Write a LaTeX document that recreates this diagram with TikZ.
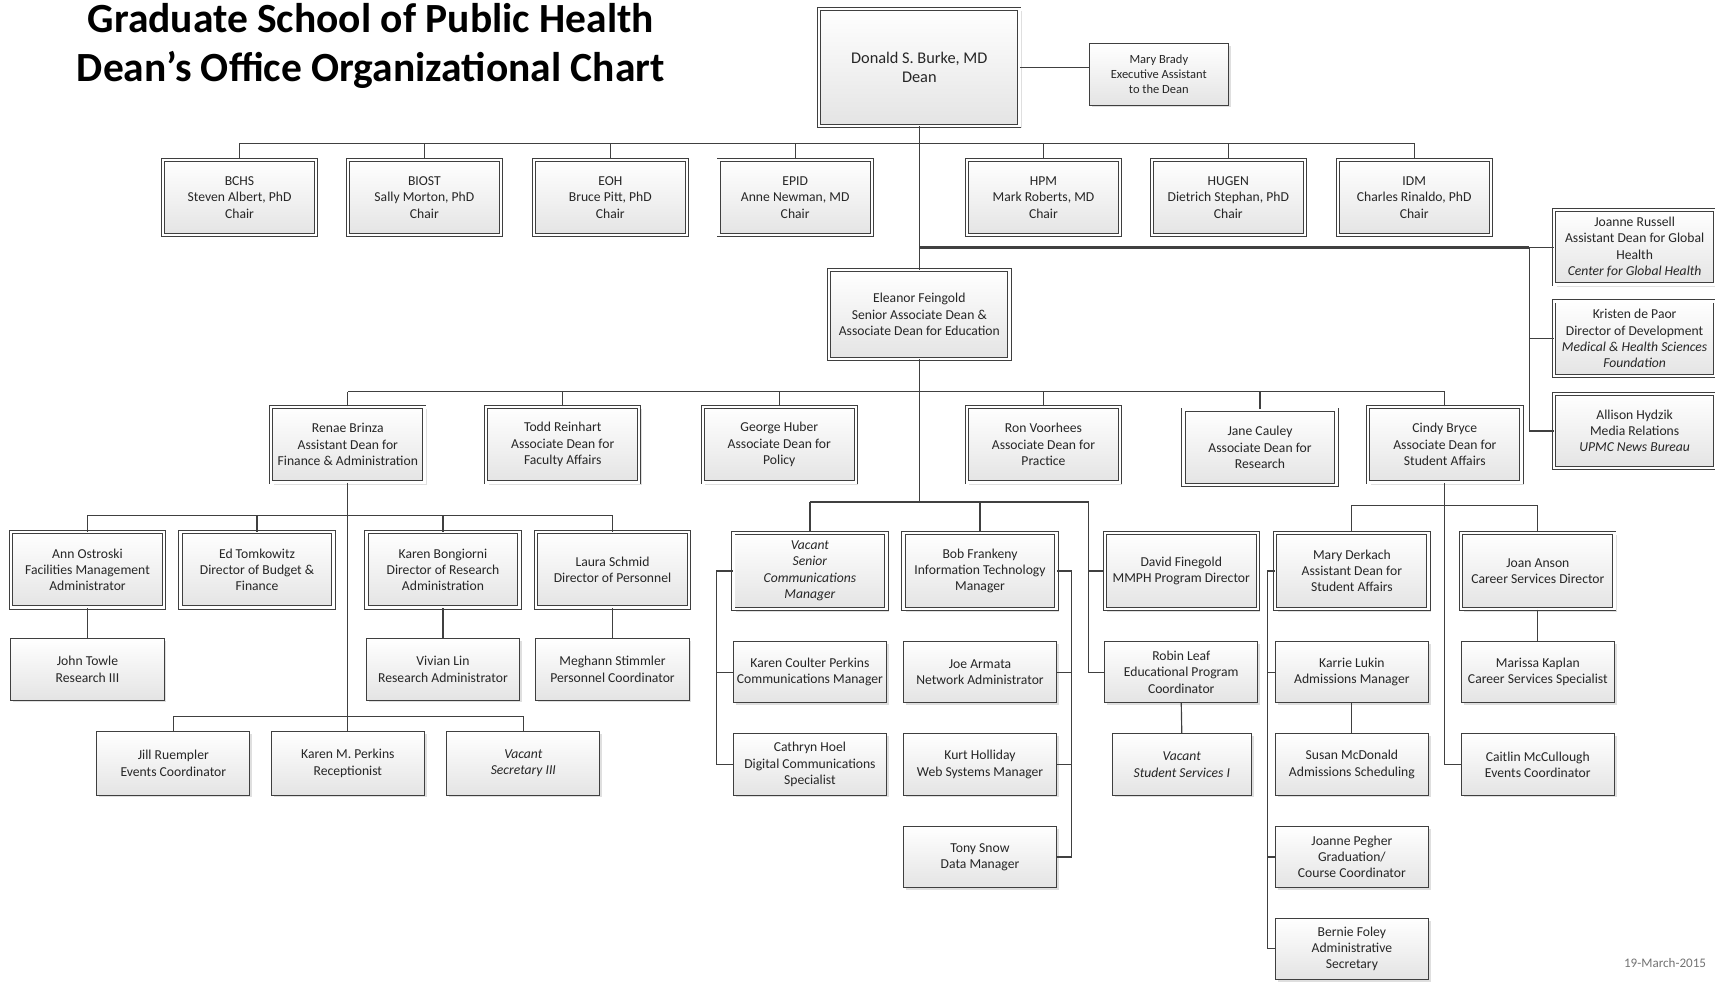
\documentclass[tikz,border=0pt]{standalone}
\usepackage{fontspec}
\setmainfont{Carlito}
\usetikzlibrary{shadows}
\definecolor{boxline}{HTML}{3F3F3F}
\definecolor{boxfill}{HTML}{E4E4E4}
\definecolor{linkgray}{HTML}{404040}

\begin{document}
\begin{tikzpicture}[x=0.02cm,y=-0.02cm,
    box/.style={draw=boxline,line width=0.5pt,top color=white,bottom color=boxfill,
      drop shadow={shadow xshift=1.2pt,shadow yshift=-1.2pt,opacity=0.25},
      align=center,inner sep=1pt,text=black!85,font=\fontsize{7.1}{8.5}\selectfont,
      minimum width=2.8cm,minimum height=1.12cm},
    head/.style={box,double=white,double distance=1.2pt,minimum height=1.38cm},
    link/.style={draw=linkgray,line width=0.6pt}]
  \useasboundingbox (0,0) rectangle (1568,897);

  % title and dean
  \node[align=center,font=\bfseries\fontsize{21.6}{25.5}\selectfont] (title) at (339,42)
    {Graduate School of Public Health\\Dean’s Office Organizational Chart};
  \node[head,minimum width=3.66cm,minimum height=2.14cm,font=\fontsize{8.5}{10.2}\selectfont] (dean) at (840.5,61.5) {Donald S. Burke, MD\\Dean};
  \node[box,minimum width=2.54cm,font=\fontsize{6.5}{7.8}\selectfont] (brady) at (1059.5,68) {Mary Brady\\Executive Assistant\\to the Dean};

  % chairs
  \node[head] (bchs) at (219,180.5) {BCHS\\Steven Albert, PhD\\Chair};
  \node[head] (biost) at (388,180.5) {BIOST\\Sally Morton, PhD\\Chair};
  \node[head] (eoh) at (558,180.5) {EOH\\Bruce Pitt, PhD\\Chair};
  \node[head] (epid) at (727,180.5) {EPID\\Anne Newman, MD\\Chair};
  \node[head] (hpm) at (954,180.5) {HPM\\Mark Roberts, MD\\Chair};
  \node[head] (hugen) at (1123,180.5) {HUGEN\\Dietrich Stephan, PhD\\Chair};
  \node[head] (idm) at (1293,180.5) {IDM\\Charles Rinaldo, PhD\\Chair};

  % right column
  \node[head,minimum width=2.94cm,minimum height=1.36cm] (russell) at (1494.5,226) {Joanne Russell\\Assistant Dean for Global\\Health\\\textit{Center for Global Health}};
  \node[head,minimum width=2.94cm,minimum height=1.36cm] (depaor) at (1494.5,309.5) {Kristen de Paor\\Director of Development\\\textit{Medical \& Health Sciences}\\\textit{Foundation}};
  \node[head,minimum width=2.94cm,minimum height=1.36cm] (hydzik) at (1494.5,394) {Allison Hydzik\\Media Relations\\\textit{UPMC News Bureau}};

  \node[head,minimum width=3.3cm,minimum height=1.62cm] (feingold) at (840.5,287.5) {Eleanor Feingold\\Senior Associate Dean \&\\Associate Dean for Education};

  % associate deans
  \node[head] (brinza) at (318,406.5) {Renae Brinza\\Assistant Dean for\\Finance \& Administration};
  \node[head] (reinhart) at (514.5,406.5) {Todd Reinhart\\Associate Dean for\\Faculty Affairs};
  \node[head] (huber) at (712.5,406.5) {George Huber\\Associate Dean for\\Policy};
  \node[head] (voorhees) at (954,406.5) {Ron Voorhees\\Associate Dean for\\Practice};
  \node[head] (cauley) at (1152,409) {Jane Cauley\\Associate Dean for\\Research};
  \node[head] (bryce) at (1321,406.5) {Cindy Bryce\\Associate Dean for\\Student Affairs};

  % directors
  \node[head] (ostroski) at (80,521) {Ann Ostroski\\Facilities Management\\Administrator};
  \node[head] (tomkowitz) at (235,521) {Ed Tomkowitz\\Director of Budget \&\\Finance};
  \node[head] (bongiorni) at (405,521) {Karen Bongiorni\\Director of Research\\Administration};
  \node[head] (schmid) at (560,521) {Laura Schmid\\Director of Personnel};
  \node[head,minimum height=1.4cm] (vacscm) at (740.5,522) {\textit{Vacant}\\\textit{Senior}\\\textit{Communications}\\\textit{Manager}};
  \node[head,minimum height=1.4cm] (frankeny) at (896,522) {Bob Frankeny\\Information Technology\\Manager};
  \node[head,minimum height=1.4cm] (finegold) at (1080,522) {David Finegold\\MMPH Program Director};
  \node[head,minimum height=1.4cm] (derkach) at (1236,522) {Mary Derkach\\Assistant Dean for\\Student Affairs};
  \node[head,minimum height=1.4cm] (anson) at (1406,522) {Joan Anson\\Career Services Director};

  % staff
  \node[box] (towle) at (80,612) {John Towle\\Research III};
  \node[box] (lin) at (405,612) {Vivian Lin\\Research Administrator};
  \node[box] (stimmler) at (560,612) {Meghann Stimmler\\Personnel Coordinator};
  \node[box] (coulter) at (740.5,614.5) {Karen Coulter Perkins\\Communications Manager};
  \node[box] (armata) at (896,614.5) {Joe Armata\\Network Administrator};
  \node[box] (leaf) at (1080,614.5) {Robin Leaf\\Educational Program\\Coordinator};
  \node[box] (lukin) at (1236,614.5) {Karrie Lukin\\Admissions Manager};
  \node[box] (kaplan) at (1406,614.5) {Marissa Kaplan\\Career Services Specialist};

  \node[box,minimum height=1.16cm] (ruempler) at (158.5,698) {Jill Ruempler\\Events Coordinator};
  \node[box,minimum height=1.16cm] (kperkins) at (318,698) {Karen M. Perkins\\Receptionist};
  \node[box,minimum height=1.16cm] (vacsec) at (478.5,698) {\textit{Vacant}\\\textit{Secretary III}};
  \node[box] (hoel) at (740.5,699) {Cathryn Hoel\\Digital Communications\\Specialist};
  \node[box] (holliday) at (896,699) {Kurt Holliday\\Web Systems Manager};
  \node[box,minimum width=2.54cm] (vacss) at (1080.5,699) {\textit{Vacant}\\\textit{Student Services I}};
  \node[box] (mcdonald) at (1236,699) {Susan McDonald\\Admissions Scheduling};
  \node[box] (mccullough) at (1406,699) {Caitlin McCullough\\Events Coordinator};

  \node[box] (snow) at (896,783.5) {Tony Snow\\Data Manager};
  \node[box] (pegher) at (1236,783.5) {Joanne Pegher\\Graduation/\\Course Coordinator};
  \node[box] (foley) at (1236,867.5) {Bernie Foley\\Administrative\\Secretary};

  \node[anchor=east,text=black!55,font=\fontsize{6.8}{7}\selectfont] (date) at (1566,880) {19-March-2015};

  % bus lines
  \coordinate (chairbus) at (840.5,131);
  \coordinate (globbus) at (1398,226);
  \coordinate (deanbus) at (840.5,358);
  \coordinate (commbus) at (840.5,459);
  \coordinate (brinzabus) at (318,471);
  \coordinate (staffbus) at (318,655);
  \coordinate (brycebus) at (1321,462);
  \coordinate (commrail) at (655,522);
  \coordinate (itrail) at (980,522);
  \coordinate (leafrail) at (995,459);
  \coordinate (sarail) at (1159,522);

  % dean
  \draw[link] (dean.east) -- (dean.east -| brady.west);
  \draw[link] (dean.south) -- (feingold.north);
  \draw[link] (bchs.north |- chairbus) -- (idm.north |- chairbus);
  \draw[link] (bchs.north) -- (bchs.north |- chairbus);
  \draw[link] (biost.north) -- (biost.north |- chairbus);
  \draw[link] (eoh.north) -- (eoh.north |- chairbus);
  \draw[link] (epid.north) -- (epid.north |- chairbus);
  \draw[link] (hpm.north) -- (hpm.north |- chairbus);
  \draw[link] (hugen.north) -- (hugen.north |- chairbus);
  \draw[link] (idm.north) -- (idm.north |- chairbus);
  \draw[link,line width=1.4pt] (dean.south |- globbus) -- (globbus);
  \draw[link] (globbus) -- (russell.west);
  \draw[link] (globbus) |- (hydzik.west);
  \draw[link] (globbus |- depaor.west) -- (depaor.west);

  % senior associate dean
  \draw[link] (feingold.south) -- (commbus);
  \draw[link] (brinza.north |- deanbus) -- (bryce.north |- deanbus);
  \draw[link] (brinza.north) -- (brinza.north |- deanbus);
  \draw[link] (reinhart.north) -- (reinhart.north |- deanbus);
  \draw[link] (huber.north) -- (huber.north |- deanbus);
  \draw[link] (voorhees.north) -- (voorhees.north |- deanbus);
  \draw[link] (cauley.north) -- (cauley.north |- deanbus);
  \draw[link] (bryce.north) -- (bryce.north |- deanbus);

  % finance and administration
  \draw[link] (brinza.south) -- (staffbus);
  \draw[link] (ostroski.north |- brinzabus) -- (schmid.north |- brinzabus);
  \draw[link] (ostroski.north) -- (ostroski.north |- brinzabus);
  \draw[link] (tomkowitz.north) -- (tomkowitz.north |- brinzabus);
  \draw[link] (bongiorni.north) -- (bongiorni.north |- brinzabus);
  \draw[link] (schmid.north) -- (schmid.north |- brinzabus);
  \draw[link] (ostroski.south) -- (towle.north);
  \draw[link] (bongiorni.south) -- (lin.north);
  \draw[link] (schmid.south) -- (stimmler.north);
  \draw[link] (ruempler.north |- staffbus) -- (vacsec.north |- staffbus);
  \draw[link] (ruempler.north) -- (ruempler.north |- staffbus);
  \draw[link] (kperkins.north) -- (kperkins.north |- staffbus);
  \draw[link] (vacsec.north) -- (vacsec.north |- staffbus);

  % communications, IT, education
  \draw[link] (vacscm.north |- commbus) -- (leafrail) |- (leaf.west);
  \draw[link] (vacscm.north) -- (vacscm.north |- commbus);
  \draw[link] (frankeny.north) -- (frankeny.north |- commbus);
  \draw[link] (leafrail |- finegold.west) -- (finegold.west);
  \draw[link] (vacscm.west) -- (commrail) |- (hoel.west);
  \draw[link] (commrail |- coulter.west) -- (coulter.west);
  \draw[link] (frankeny.east) -- (itrail) |- (snow.east);
  \draw[link] (itrail |- armata.east) -- (armata.east);
  \draw[link] (itrail |- holliday.east) -- (holliday.east);
  \draw[link] (leaf.south) -- (vacss.north);

  % student affairs
  \draw[link] (bryce.south) |- (mccullough.west);
  \draw[link] (derkach.north |- brycebus) -- (anson.north |- brycebus);
  \draw[link] (derkach.north) -- (derkach.north |- brycebus);
  \draw[link] (anson.north) -- (anson.north |- brycebus);
  \draw[link] (anson.south) -- (kaplan.north);
  \draw[link] (lukin.south) -- (mcdonald.north);
  \draw[link] (derkach.west) -- (sarail) |- (foley.west);
  \draw[link] (sarail |- lukin.west) -- (lukin.west);
  \draw[link] (sarail |- pegher.west) -- (pegher.west);
\end{tikzpicture}
\end{document}
